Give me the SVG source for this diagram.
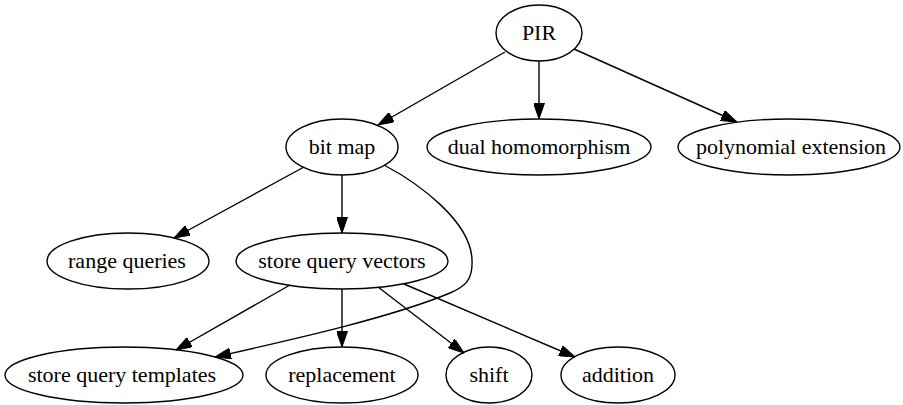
<svg xmlns="http://www.w3.org/2000/svg" width="903" height="405" viewBox="0 0 903 405">
<style>
.n ellipse{fill:none;stroke:#000;stroke-width:1.4}
.n text{font-family:"Liberation Serif","Times New Roman",serif;font-size:22px;text-anchor:middle;fill:#000}
.e path{fill:none;stroke:#000;stroke-width:1.4;marker-end:url(#ah)}
</style>
<defs>
<marker id="ah" viewBox="0 0 16 11" refX="16" refY="5.5" markerWidth="16" markerHeight="11" markerUnits="userSpaceOnUse" orient="auto">
<path d="M0,0 L16,5.5 L0,11 z" fill="#000" stroke="#000" stroke-width="1"/>
</marker>
</defs>
<rect width="903" height="405" fill="#fff"/>
<g id="edges" class="e">
<path d="M505,52 L378,125"/>
<path d="M539,61 L539,119"/>
<path d="M574,49 L737,122"/>
<path d="M304,167 L174,238"/>
<path d="M342,175 L342,233"/>
<path d="M384,165 C420,184 471,222 472,260 C473,281 464,287 450,293 C390,318 290,340 215,357"/>
<path d="M290,285 L176,350"/>
<path d="M342,289 L342,347"/>
<path d="M378,287 L464,353"/>
<path d="M404,284 L575,357"/>
</g>
<g id="PIR" class="n"><ellipse cx="539" cy="33" rx="43" ry="28"/><text x="539" y="40">PIR</text></g>
<g id="bitmap" class="n"><ellipse cx="342" cy="147" rx="56" ry="28"/><text x="342" y="154">bit map</text></g>
<g id="dual" class="n"><ellipse cx="539" cy="147" rx="112" ry="28"/><text x="539" y="154">dual homomorphism</text></g>
<g id="poly" class="n"><ellipse cx="789" cy="147" rx="111" ry="28"/><text x="791" y="154">polynomial extension</text></g>
<g id="range" class="n"><ellipse cx="128" cy="261" rx="81" ry="28"/><text x="127" y="268">range queries</text></g>
<g id="sqv" class="n"><ellipse cx="342" cy="261" rx="106" ry="28"/><text x="342" y="268">store query vectors</text></g>
<g id="sqt" class="n"><ellipse cx="124" cy="375" rx="119" ry="28"/><text x="122" y="382">store query templates</text></g>
<g id="replacement" class="n"><ellipse cx="342" cy="375" rx="76" ry="28"/><text x="342" y="382">replacement</text></g>
<g id="shift" class="n"><ellipse cx="489" cy="375" rx="43" ry="28"/><text x="489" y="382">shift</text></g>
<g id="addition" class="n"><ellipse cx="618" cy="375" rx="57" ry="28"/><text x="618" y="382">addition</text></g>
</svg>
